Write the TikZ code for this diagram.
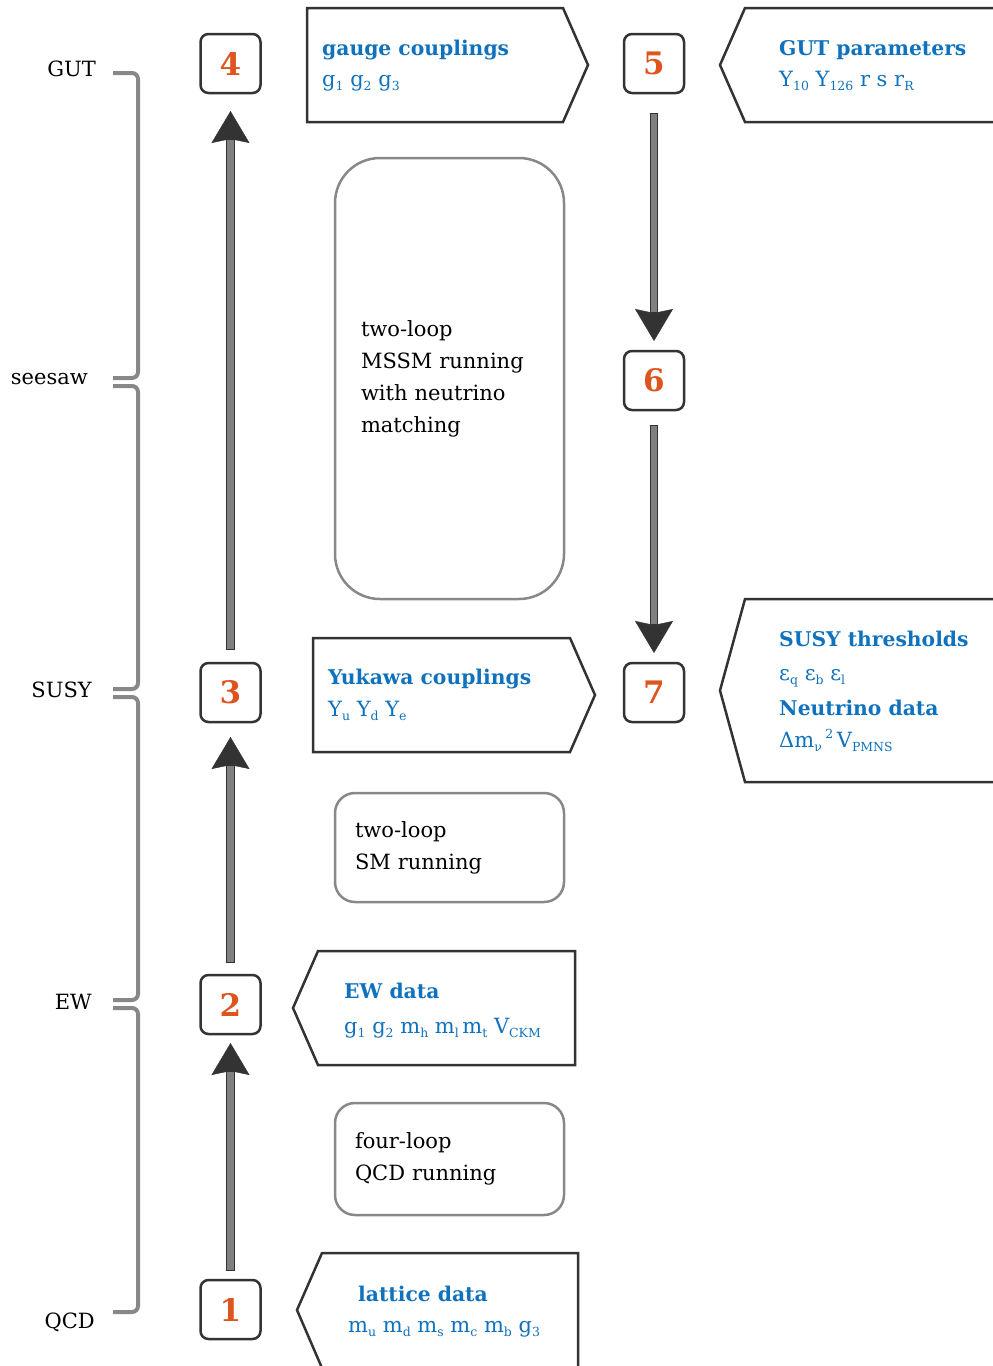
\documentclass[tikz,border=0pt]{standalone}
\usepackage{fontspec}
\setmainfont{DejaVu Serif}
\usetikzlibrary{arrows.meta,calc}
\definecolor{dkline}{HTML}{333333}
\definecolor{grayline}{HTML}{888888}
\definecolor{shaftgray}{HTML}{808080}
\definecolor{tblue}{HTML}{1072BC}
\definecolor{torange}{HTML}{DD541E}
\newcommand\bodyfont{\fontsize{21}{32}\selectfont}
\newcommand\titlefont{\fontsize{20.3}{32}\selectfont\bfseries}
\newcommand\lo[1]{\raisebox{-0.45ex}{\fontsize{12.5}{12.5}\selectfont #1}}
\newcommand\hi[1]{\raisebox{0.75ex}{\fontsize{12.5}{12.5}\selectfont #1}}
\begin{document}
\begin{tikzpicture}[x=1pt,y=-1pt,
  numbox/.style={draw=dkline, line width=2.5pt, rounded corners=8pt,
    minimum width=60pt, minimum height=59pt, inner sep=0pt, outer sep=0pt,
    text=torange, font=\fontsize{31}{31}\selectfont\bfseries},
  tagbox/.style={draw=dkline, line width=2.5pt, line join=miter},
  procbox/.style={draw=grayline, line width=2.5pt, align=left, inner ysep=0pt,
    outer sep=0pt, font=\bodyfont},
  title/.style={anchor=base west, text=tblue, font=\titlefont, inner sep=0pt},
  param/.style={anchor=base west, text=tblue, font=\bodyfont, inner sep=0pt},
  scalelabel/.style={anchor=base east, font=\bodyfont, inner sep=0pt},
  bracket/.style={draw=grayline, line width=4pt, rounded corners=6pt},
  flowouter/.style={draw=dkline, line width=8.5pt,
    -{Stealth[length=32pt,width=38pt,inset=4pt,line width=0.4pt]}},
  flowinner/.style={draw=shaftgray, line width=6.5pt}
]
\useasboundingbox (0,0) rectangle (993,1366);

% scale labels and brackets
\node[scalelabel] (lgut) at (96,76) {GUT};
\node[scalelabel] (lsee) at (88,384) {seesaw};
\node[scalelabel] (lsusy) at (92,697) {SUSY};
\node[scalelabel] (lew) at (92,1009) {EW};
\node[scalelabel] (lqcd) at (95,1328) {QCD};
\draw[bracket] (113,73) -- (138,73) -- (138,378) -- (113,378);
\draw[bracket] (113,386) -- (138,386) -- (138,689) -- (113,689);
\draw[bracket] (113,697) -- (138,697) -- (138,1000) -- (113,1000);
\draw[bracket] (113,1008) -- (138,1008) -- (138,1312) -- (113,1312);

% numbered steps
\node[numbox] (b1) at (230.5,1309.5) {1};
\node[numbox] (b2) at (230.5,1004.5) {2};
\node[numbox] (b3) at (230.5,692.5) {3};
\node[numbox] (b4) at (230.5,63.5) {4};
\node[numbox] (b5) at (654,63.5) {5};
\node[numbox] (b6) at (654,380.5) {6};
\node[numbox] (b7) at (654,692.5) {7};

% arrows
\draw[flowouter] ($(b1.north)+(0,-9)$) -- ($(b2.south)+(0,9)$);
\draw[flowinner] ($(b1.north)+(0,-10)$) -- ($(b2.south)+(0,38)$);
\draw[flowouter] ($(b2.north)+(0,-12)$) -- ($(b3.south)+(0,15)$);
\draw[flowinner] ($(b2.north)+(0,-13)$) -- ($(b3.south)+(0,44)$);
\draw[flowouter] ($(b3.north)+(0,-13)$) -- ($(b4.south)+(0,18)$);
\draw[flowinner] ($(b3.north)+(0,-14)$) -- ($(b4.south)+(0,47)$);
\draw[flowouter] ($(b5.south)+(0,20)$) -- ($(b6.north)+(0,-10)$);
\draw[flowinner] ($(b5.south)+(0,21)$) -- ($(b6.north)+(0,-39)$);
\draw[flowouter] ($(b6.south)+(0,15)$) -- ($(b7.north)+(0,-10)$);
\draw[flowinner] ($(b6.south)+(0,16)$) -- ($(b7.north)+(0,-39)$);

% process boxes
\node[procbox, rounded corners=45pt, minimum width=229pt, minimum height=441pt,
  text width=177pt, inner xsep=26pt] (mssm) at (449.5,378.5)
  {two-loop\\MSSM running\\with neutrino\\matching};
\node[procbox, rounded corners=20pt, minimum width=229pt, minimum height=109pt,
  text width=189pt, inner xsep=20pt] (sm) at (449.5,847.5)
  {two-loop\\SM running};
\node[procbox, rounded corners=20pt, minimum width=229pt, minimum height=112pt,
  text width=189pt, inner xsep=20pt] (qcd) at (449.5,1159)
  {four-loop\\QCD running};

% input / output tags
\draw[tagbox] (307,8) -- (563,8) -- (588,65) -- (563,122) -- (307,122) -- cycle;
\node[title] (tgauge) at (322,55) {gauge couplings};
\node[param] (pgauge) at (322,86) {g\lo{1} g\lo{2} g\lo{3}};

\draw[tagbox] (1000,8) -- (745,8) -- (720,65) -- (745,122) -- (1000,122);
\node[title] (tgut) at (779,55) {GUT parameters};
\node[param] (pgut) at (779,86) {Y\lo{10} Y\lo{126} r s r\lo{R}};

\draw[tagbox] (313,638) -- (570,638) -- (595,695) -- (570,752) -- (313,752) -- cycle;
\node[title] (tyuk) at (328,684) {Yukawa couplings};
\node[param] (pyuk) at (328,716) {Y\lo{u} Y\lo{d} Y\lo{e}};

\draw[tagbox] (1000,599) -- (745,599) -- (720,690.5) -- (745,782) -- (1000,782);
\node[title] (tsusy) at (779,646) {SUSY thresholds};
\node[param] (psusy) at (779,680) {ε\lo{q} ε\lo{b} ε\lo{l}};
\node[title] (tnu) at (779,715) {Neutrino data};
\node[param] (pnu) at (779,747) {Δm\lo{ν}\,\hi{2}\,V\lo{PMNS}};

\draw[tagbox] (318,951) -- (575,951) -- (575,1065) -- (318,1065) -- (293,1008) -- cycle;
\node[title] (tew) at (344,998) {EW data};
\node[param] (pew) at (344,1033) {g\lo{1} g\lo{2} m\lo{h} m\lo{l}\,m\lo{t} V\lo{CKM}};

\draw[tagbox] (322,1253) -- (578,1253) -- (578,1368) -- (322,1368) -- (297,1310) -- cycle;
\node[title] (tlat) at (358,1301) {lattice data};
\node[param] (plat) at (348,1332) {m\lo{u} m\lo{d} m\lo{s} m\lo{c} m\lo{b} g\lo{3}};
\end{tikzpicture}
\end{document}
